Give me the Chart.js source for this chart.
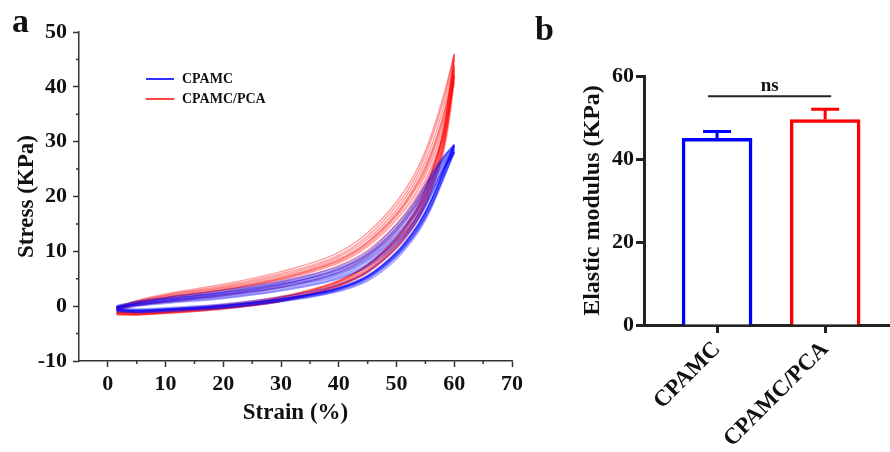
<!DOCTYPE html>
<html>
<head>
<meta charset="utf-8">
<script src="https://cdn.jsdelivr.net/npm/chart.js@4.4.0/dist/chart.umd.min.js"></script>
<style>
  body { margin:0; background:#fff; width:890px; height:452px; overflow:hidden; position:relative;
         font-family:"Liberation Serif","Times New Roman",serif; }
  #c1 { position:absolute; left:0; top:0; }
  #c2 { position:absolute; left:540px; top:0; }
  .panel { position:absolute; font-weight:bold; font-size:34px; line-height:34px; color:#111; z-index:2; }
  #legend { position:absolute; left:146px; top:69px; font-weight:bold; font-size:14px; color:#111; z-index:2; }
  .row { display:flex; align-items:center; height:20px; }
  .sw { width:28px; height:2px; margin-right:8px; }
</style>
</head>
<body>
<canvas id="c1" width="540" height="452"></canvas>
<canvas id="c2" width="350" height="452"></canvas>
<div class="panel" style="left:12px;top:4px">a</div>
<div class="panel" style="left:535px;top:12px">b</div>
<div id="legend">
  <div class="row"><span class="sw" style="background:#3333ff"></span><span>CPAMC</span></div>
  <div class="row"><span class="sw" style="background:#ff4444"></span><span>CPAMC/PCA</span></div>
</div>
<script>
// ---------- Panel a: stress-strain loops ----------
const strainLoad   = [1.5, 5, 10, 20, 30, 40, 45, 50, 53, 55, 57, 58.5, 60];
const strainUnload = [60, 59, 58, 56, 54, 52, 50, 45, 40, 30, 20, 10, 5, 1.5];

const cpamcLoad = [
  [-0.2, 0.4, 1.1, 2.2, 3.8, 6.2, 8.7, 13.2, 17.0, 20.5, 24.5, 27.0, 29.0],
  [ 0.0, 0.7, 1.4, 2.6, 4.3, 6.9, 9.5, 14.3, 18.3, 21.8, 25.3, 27.6, 29.4],
  [-0.3, 0.3, 0.9, 2.0, 3.5, 5.8, 8.2, 12.5, 16.2, 19.6, 23.8, 26.4, 28.5],
  [-0.1, 0.5, 1.2, 2.4, 4.0, 6.5, 9.1, 13.7, 17.6, 21.0, 24.9, 27.3, 29.2],
  [-0.4, 0.2, 0.8, 1.8, 3.3, 5.5, 7.8, 12.0, 15.6, 19.0, 23.3, 26.0, 28.2],
  [-0.2, 0.6, 1.3, 2.5, 4.1, 6.7, 9.3, 14.0, 18.0, 21.4, 25.1, 27.5, 29.3],
  [-0.5, 0.0, 0.5, 1.4, 2.8, 5.0, 7.2, 11.3, 14.9, 18.3, 22.6, 25.5, 28.0],
  [-0.3, 0.1, 0.7, 1.6, 3.0, 5.2, 7.5, 11.7, 15.3, 18.7, 22.9, 25.7, 28.1],
  [ 0.1, 0.9, 1.6, 2.9, 4.6, 7.2, 9.9, 14.8, 18.8, 22.2, 25.7, 27.8, 29.5],
  [-0.1, 0.4, 1.0, 2.1, 3.6, 6.0, 8.5, 12.9, 16.6, 20.0, 24.1, 26.7, 28.8]
];
const cpamcUnload = [
  [29.0, 26.5, 24.0, 19.0, 15.0, 12.0, 9.5, 5.3, 3.2, 1.2, 0.0, -0.6, -0.8, -0.6],
  [29.4, 26.9, 24.4, 19.4, 15.4, 12.4, 9.9, 5.6, 3.4, 1.4, 0.2, -0.5, -0.7, -0.5],
  [28.5, 26.0, 23.5, 18.5, 14.6, 11.6, 9.2, 5.1, 3.0, 1.0, -0.2, -0.8, -1.0, -0.8],
  [29.2, 26.7, 24.2, 19.2, 15.2, 12.2, 9.7, 5.5, 3.3, 1.3, 0.1, -0.5, -0.8, -0.6],
  [28.2, 25.7, 23.2, 18.2, 14.3, 11.4, 9.0, 4.9, 2.9, 0.9, -0.3, -0.9, -1.1, -0.9],
  [29.3, 26.8, 24.3, 19.3, 15.3, 12.3, 9.8, 5.5, 3.3, 1.3, 0.1, -0.6, -0.8, -0.7],
  [28.0, 25.4, 22.8, 17.8, 13.9, 11.0, 8.6, 4.6, 2.7, 0.8, -0.4, -1.0, -1.2, -1.0],
  [28.1, 25.6, 23.1, 18.3, 14.5, 11.6, 9.3, 5.2, 3.1, 1.1, -0.1, -0.7, -0.9, -0.7],
  [29.5, 27.2, 24.9, 20.2, 16.2, 13.2, 10.7, 6.3, 3.9, 1.7, 0.4, -0.3, -0.5, -0.4],
  [28.8, 26.4, 23.9, 19.0, 15.0, 12.0, 9.6, 5.4, 3.2, 1.2, 0.0, -0.6, -0.9, -0.7]
];
const pcaLoad = [
  [-0.3, 0.7, 1.7, 3.3, 5.3, 8.6, 11.8, 17.0, 21.5, 25.5, 31.0, 36.5, 44.0],
  [-0.2, 0.9, 2.0, 3.7, 5.9, 9.3, 12.8, 18.3, 23.0, 27.5, 33.5, 39.0, 46.0],
  [-0.4, 0.5, 1.4, 2.9, 4.8, 7.9, 10.9, 15.8, 20.0, 24.0, 29.0, 34.5, 42.0],
  [-0.5, 0.6, 1.5, 3.0, 5.0, 8.2, 11.3, 16.4, 20.8, 24.6, 30.0, 35.5, 43.5],
  [-0.3, 0.8, 1.9, 3.5, 5.6, 9.0, 12.3, 17.6, 22.2, 26.4, 32.2, 37.8, 45.0],
  [-0.6, 0.4, 1.2, 2.6, 4.4, 7.4, 10.2, 15.0, 19.2, 23.0, 28.0, 33.5, 41.0],
  [-0.7, 0.2, 0.9, 2.2, 3.9, 6.8, 9.6, 14.3, 18.6, 22.3, 27.4, 33.0, 42.5],
  [-0.2, 1.0, 2.2, 4.0, 6.3, 9.8, 13.4, 19.0, 23.8, 28.3, 34.3, 39.8, 45.8],
  [-0.4, 0.6, 1.6, 3.1, 5.1, 8.4, 11.6, 16.7, 21.2, 25.1, 30.6, 36.0, 43.0],
  [-0.8, 0.1, 0.7, 1.9, 3.4, 6.2, 9.0, 13.6, 17.8, 21.6, 26.8, 32.5, 42.0]
];
const pcaUnload = [
  [44.0, 36.0, 30.0, 23.0, 18.0, 14.5, 11.8, 7.0, 4.2, 1.3, -0.2, -1.0, -1.3, -1.2],
  [46.0, 38.0, 31.5, 24.2, 19.0, 15.4, 12.6, 7.6, 4.6, 1.6, 0.1, -0.8, -1.2, -1.1],
  [42.0, 34.0, 28.5, 21.8, 17.0, 13.6, 11.0, 6.4, 3.8, 1.0, -0.4, -1.2, -1.5, -1.4],
  [43.5, 35.5, 29.4, 22.5, 17.5, 14.0, 11.4, 6.7, 4.0, 1.1, -0.3, -1.1, -1.4, -1.3],
  [45.0, 37.0, 30.8, 23.6, 18.5, 15.0, 12.2, 7.3, 4.4, 1.5, 0.0, -0.9, -1.2, -1.2],
  [41.0, 33.0, 27.5, 21.0, 16.3, 13.0, 10.5, 6.1, 3.6, 0.9, -0.5, -1.3, -1.6, -1.5],
  [42.5, 34.5, 28.8, 22.0, 17.2, 13.7, 11.1, 6.5, 3.9, 1.1, -0.4, -1.2, -1.5, -1.4],
  [45.8, 37.8, 31.2, 24.0, 18.8, 15.2, 12.4, 7.5, 4.5, 1.6, 0.0, -0.8, -1.1, -1.0],
  [43.0, 35.0, 29.2, 22.8, 18.2, 14.8, 12.2, 7.5, 4.7, 1.8, 0.3, -0.6, -1.0, -1.0],
  [42.0, 34.0, 28.0, 21.2, 16.5, 13.2, 10.7, 6.2, 3.7, 0.9, -0.5, -1.3, -1.6, -1.6]
];

const strainTicks = [0, 10, 20, 30, 40, 50, 60, 70];
const strainMinorTicks = [5, 15, 25, 35, 45, 55, 65];
const stressTicks = [-10, 0, 10, 20, 30, 40, 50];
const stressMinorTicks = [-5, 5, 15, 25, 35, 45];

// ---------- Panel b: elastic modulus ----------
const groups = ['CPAMC', 'CPAMC/PCA'];
const modulus = [45.0, 49.5];
const modulusErr = [1.6, 2.5];
const nsLevel = 55.1;
const modulusTicks = [0, 20, 40, 60];

const SERIF = "'Liberation Serif','Times New Roman',serif";
const BLUE = 'rgba(0,0,255,0.38)';
const RED = 'rgba(255,0,0,0.38)';

function toPts(xs, ys) { return xs.map((x, i) => ({ x: x, y: ys[i] })); }
function lineDs(pts, color, label) {
  return { label: label, data: pts, borderColor: color, backgroundColor: color, borderWidth: 1.5,
           pointRadius: 0, fill: false, cubicInterpolationMode: 'monotone' };
}
const datasetsA = [];
cpamcLoad.forEach((ys, i) => {
  datasetsA.push(lineDs(toPts(strainLoad, ys), BLUE, 'CPAMC'));
  datasetsA.push(lineDs(toPts(strainUnload, cpamcUnload[i]), BLUE, 'CPAMC'));
});
pcaLoad.forEach((ys, i) => {
  datasetsA.push(lineDs(toPts(strainLoad, ys), RED, 'CPAMC/PCA'));
  datasetsA.push(lineDs(toPts(strainUnload, pcaUnload[i]), RED, 'CPAMC/PCA'));
});

const minorTickPlugin = {
  id: 'minorTicks',
  afterDraw(chart) {
    const { ctx, chartArea: a, scales: { x, y } } = chart;
    ctx.save();
    ctx.strokeStyle = '#333';
    ctx.lineWidth = 1.5;
    ctx.beginPath();
    strainMinorTicks.forEach(v => { const px = x.getPixelForValue(v); ctx.moveTo(px, a.bottom); ctx.lineTo(px, a.bottom + 3); });
    stressMinorTicks.forEach(v => { const py = y.getPixelForValue(v); ctx.moveTo(a.left, py); ctx.lineTo(a.left - 3, py); });
    ctx.stroke();
    ctx.restore();
  }
};

new Chart(document.getElementById('c1'), {
  type: 'line',
  data: { datasets: datasetsA },
  options: {
    responsive: false, animation: false, devicePixelRatio: 1,
    layout: { padding: { top: 32, right: 28, left: 0, bottom: 0 } },
    plugins: { legend: { display: false }, tooltip: { enabled: false } },
    scales: {
      x: {
        type: 'linear', min: -5, max: 70,
        afterBuildTicks: s => { s.ticks = strainTicks.map(v => ({ value: v })); },
        afterFit: s => { s.height = 91; },
        grid: { display: true, drawOnChartArea: false, tickLength: 6, tickWidth: 1.5, tickColor: '#333' },
        border: { display: true, color: '#333', width: 1.5 },
        ticks: { font: { family: SERIF, size: 22, weight: 'bold' }, color: '#111', padding: 4, maxRotation: 0 },
        title: { display: true, text: 'Strain (%)', color: '#111', font: { family: SERIF, size: 23, weight: 'bold' },
                 padding: { top: 0, bottom: 25 } }
      },
      y: {
        type: 'linear', min: -10, max: 50,
        afterBuildTicks: s => { s.ticks = stressTicks.map(v => ({ value: v })); },
        afterFit: s => { s.width = 79; },
        grid: { display: true, drawOnChartArea: false, tickLength: 6, tickWidth: 1.5, tickColor: '#333' },
        border: { display: true, color: '#333', width: 1.5 },
        ticks: { font: { family: SERIF, size: 22, weight: 'bold' }, color: '#111', padding: 6 },
        title: { display: true, text: 'Stress (KPa)', color: '#111', font: { family: SERIF, size: 23, weight: 'bold' },
                 padding: { top: 13, bottom: 0 } }
      }
    }
  },
  plugins: [minorTickPlugin]
});

// ---------- Panel b chart ----------
const barColors = ['#0000ff', '#ff0000'];
const errorBarPlugin = {
  id: 'errorBars',
  afterDatasetsDraw(chart) {
    const { ctx, scales: { y } } = chart;
    const meta = chart.getDatasetMeta(0);
    ctx.save();
    ctx.lineWidth = 3;
    meta.data.forEach((bar, i) => {
      const yTop = y.getPixelForValue(modulus[i]);
      const yErr = y.getPixelForValue(modulus[i] + modulusErr[i]);
      ctx.strokeStyle = barColors[i];
      ctx.beginPath();
      ctx.moveTo(bar.x, yTop); ctx.lineTo(bar.x, yErr);
      ctx.moveTo(bar.x - 14, yErr); ctx.lineTo(bar.x + 14, yErr);
      ctx.stroke();
    });
    // significance bracket
    const yNs = y.getPixelForValue(nsLevel);
    const x0 = meta.data[0].x - 9, x1 = meta.data[1].x + 6;
    ctx.strokeStyle = '#222';
    ctx.lineWidth = 2;
    ctx.beginPath(); ctx.moveTo(x0, yNs); ctx.lineTo(x1, yNs); ctx.stroke();
    ctx.fillStyle = '#111';
    ctx.font = 'bold 19px ' + SERIF;
    ctx.textAlign = 'center';
    ctx.textBaseline = 'alphabetic';
    ctx.fillText('ns', (x0 + x1) / 2, yNs - 5);
    ctx.restore();
  }
};

new Chart(document.getElementById('c2'), {
  type: 'bar',
  data: {
    datasets: [{
      label: 'Elastic modulus',
      data: groups.map((g, i) => ({ x: i + 1, y: modulus[i] })),
      backgroundColor: '#ffffff',
      borderColor: barColors,
      borderWidth: 3.5,
      barThickness: 70
    }]
  },
  options: {
    responsive: false, animation: false, devicePixelRatio: 1,
    layout: { padding: { top: 76, right: 0, left: 0, bottom: 0 } },
    plugins: { legend: { display: false }, tooltip: { enabled: false } },
    scales: {
      x: {
        type: 'linear', min: 0.324, max: 2.6, offset: false,
        afterBuildTicks: s => { s.ticks = groups.map((g, i) => ({ value: i + 1 })); },
        afterFit: s => { s.height = 127; },
        grid: { display: true, offset: false, drawOnChartArea: false, tickLength: 8, tickWidth: 3, tickColor: '#222' },
        border: { display: true, color: '#222', width: 3 },
        ticks: { callback: (v, i) => groups[i], font: { family: SERIF, size: 23, weight: 'bold' }, color: '#111',
                 minRotation: 45, maxRotation: 45, padding: 3, autoSkip: false }
      },
      y: {
        type: 'linear', min: 0, max: 60,
        afterBuildTicks: s => { s.ticks = modulusTicks.map(v => ({ value: v })); },
        afterFit: s => { s.width = 104; },
        grid: { display: true, drawOnChartArea: false, tickLength: 8, tickWidth: 3, tickColor: '#222' },
        border: { display: true, color: '#222', width: 3 },
        ticks: { font: { family: SERIF, size: 22, weight: 'bold' }, color: '#111', padding: 2 },
        title: { display: true, text: 'Elastic modulus (KPa)', color: '#111', font: { family: SERIF, size: 24, weight: 'bold' },
                 padding: { top: 38, bottom: 0 } }
      }
    }
  },
  plugins: [errorBarPlugin]
});
</script>
</body>
</html>
